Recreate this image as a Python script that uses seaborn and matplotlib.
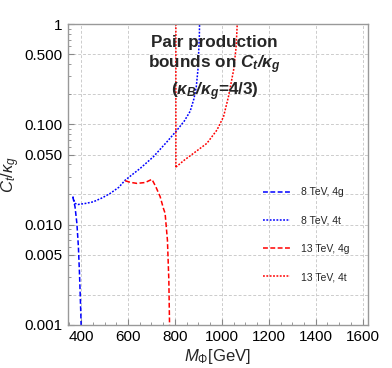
import numpy as np
import pandas as pd
import matplotlib
matplotlib.use("Agg")
from matplotlib import pyplot as plt
from matplotlib.ticker import FixedLocator, FixedFormatter, NullFormatter
import seaborn as sns

# curves (mass in GeV, bound on C_t/kappa_g)
m_8_4g = [364.6, 374, 382, 388.5, 393, 396.5, 399, 400]
c_8_4g = [0.019, 0.0151, 0.0103, 0.0060, 0.0033, 0.0019, 0.00125, 0.001]

m_8_4t = [364.6, 374, 388, 420, 452, 490, 524, 560, 588, 652, 708, 766, 808, 840, 865, 881, 891,
          898, 901, 904, 905]
c_8_4t = [0.019, 0.0163, 0.0159, 0.0163, 0.0169, 0.0185, 0.0205, 0.0235, 0.0278, 0.0364, 0.0475,
          0.067, 0.087, 0.108, 0.135, 0.18, 0.237, 0.35, 0.51, 0.75, 1.0]

m_13_4g = [588, 610, 638, 673, 702, 718, 737, 751, 758, 768, 774, 777]
c_13_4g = [0.0274, 0.0264, 0.0258, 0.0263, 0.0283, 0.024, 0.019, 0.0145, 0.013, 0.0070, 0.0028, 0.001]

m_13_4t = [804, 804, 806, 840, 879, 936, 979, 1007, 1028, 1050, 1061, 1065.5]
c_13_4t = [1.0, 0.0368, 0.0378, 0.044, 0.0514, 0.0646, 0.0877, 0.119, 0.188, 0.347, 0.594, 1.0]

labels = ["8 TeV, 4g", "8 TeV, 4t", "13 TeV, 4g", "13 TeV, 4t"]
colors = ["#0000ff", "#0000ff", "#ff0000", "#ff0000"]
dashes = [(3.2, 1.6), (1.2, 1.0), (3.2, 1.6), (1.2, 1.0)]

y_major = [0.001, 0.005, 0.01, 0.05, 0.1, 0.5, 1]
y_major_labels = ["0.001", "0.005", "0.010", "0.050", "0.100", "0.500", "1"]
y_grid = [0.002, 0.005, 0.01, 0.02, 0.05, 0.1, 0.2, 0.5]
x_ticks = [400, 600, 800, 1000, 1200, 1400, 1600]

sns.set_style("ticks")
plt.rcParams['font.family'] = ['Liberation Sans', 'DejaVu Sans']
plt.rcParams['mathtext.fontset'] = 'custom'
plt.rcParams['mathtext.rm'] = 'Liberation Sans'
plt.rcParams['mathtext.it'] = 'Liberation Sans:italic'
plt.rcParams['mathtext.bf'] = 'Liberation Sans:bold'
plt.rcParams['mathtext.bfit'] = 'Liberation Sans:bold:italic'

fig = plt.figure(figsize=(3.92, 3.68), dpi=100)
ax = fig.add_axes([67.5 / 392, 1 - 325 / 368, 300.5 / 392, 301 / 368])

series = [(m_8_4g, c_8_4g), (m_8_4t, c_8_4t), (m_13_4g, c_13_4g), (m_13_4t, c_13_4t)]
for (m, c), lab, col, d in zip(series, labels, colors, dashes):
    df = pd.DataFrame({"M": m, "C": c})
    sns.lineplot(data=df, x="M", y="C", ax=ax, sort=False, color=col, lw=1.1,
                 dashes=False, label=lab, estimator=None)
    ax.lines[-1].set_dashes(d)

ax.set_yscale("log")
ax.set_xlim(342, 1623)
ax.set_ylim(0.001, 1)

for x in x_ticks:
    ax.axvline(x, color="#cccccc", lw=0.7, ls=(0, (3, 2)), zorder=0)
for y in y_grid:
    ax.axhline(y, color="#cccccc", lw=0.7, ls=(0, (3, 2)), zorder=0)

ax.xaxis.set_major_locator(FixedLocator(x_ticks))
ax.xaxis.set_minor_locator(FixedLocator(np.arange(350, 1625, 50)))
ax.yaxis.set_major_locator(FixedLocator(y_major))
ax.yaxis.set_major_formatter(FixedFormatter(y_major_labels))
ax.yaxis.set_minor_locator(FixedLocator([0.002, 0.003, 0.004, 0.006, 0.007, 0.008, 0.009,
                                         0.02, 0.03, 0.04, 0.06, 0.07, 0.08, 0.09,
                                         0.2, 0.3, 0.4, 0.6, 0.7, 0.8, 0.9]))
ax.yaxis.set_minor_formatter(NullFormatter())
ax.tick_params(which="both", direction="in", colors="#888888", labelcolor="black", labelsize=11,
               top=False, right=False)
ax.tick_params(which="major", length=4, width=0.8)
ax.tick_params(which="minor", length=2.5, width=0.6)
for s in ax.spines.values():
    s.set_color("#999999")
    s.set_linewidth(1.0)

ax.set_xlabel(r"$M_\Phi$[GeV]", fontsize=12, labelpad=2)
ax.set_ylabel(r"$C_t/\kappa_g$", fontsize=12, labelpad=2)

ax.text(0.49, 0.94, "Pair production", transform=ax.transAxes, ha="center", va="center",
        fontsize=12.3, fontweight="bold")
ax.text(0.49, 0.865, r"bounds on $\mathbfit{C_t/\kappa_g}$", transform=ax.transAxes, ha="center",
        va="center", fontsize=12.3, fontweight="bold")
ax.text(0.49, 0.775, r"($\mathbfit{\kappa_B/\kappa_g}$=4/3)", transform=ax.transAxes, ha="center",
        va="center", fontsize=12.3, fontweight="bold")

leg = ax.legend(loc="center left", bbox_to_anchor=(0.62, 0.30), frameon=False, fontsize=7.5,
                handlelength=2.6, labelspacing=1.75, handletextpad=1.0)

fig.savefig("out.png", dpi=100)
